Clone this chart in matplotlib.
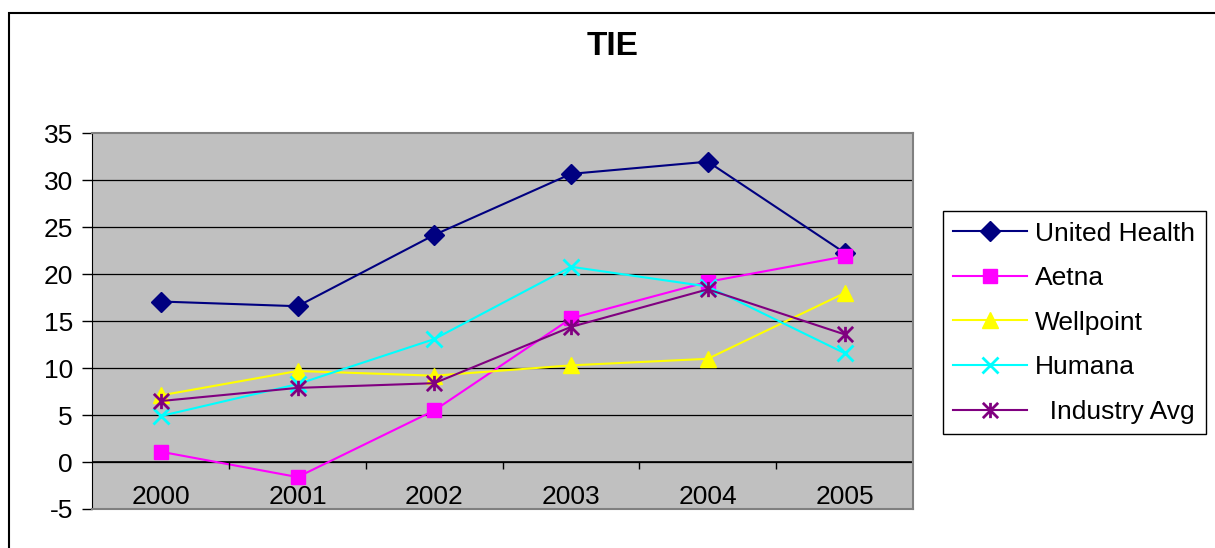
import numpy as np
import matplotlib
matplotlib.use('Agg')
import matplotlib.pyplot as plt
from matplotlib.path import Path
from matplotlib.patches import Rectangle

plt.rcParams['font.family'] = ['Liberation Sans', 'DejaVu Sans']

# data
years = ['2000', '2001', '2002', '2003', '2004', '2005']
united_health = [17.1, 16.6, 24.2, 30.7, 32.0, 22.3]
aetna = [1.1, -1.6, 5.5, 15.3, 19.2, 21.9]
wellpoint = [7.1, 9.7, 9.2, 10.3, 11.0, 18.0]
humana = [4.9, 8.3, 13.1, 20.8, 18.7, 11.6]
industry_avg = [6.5, 7.9, 8.4, 14.4, 18.4, 13.6]
yticks = [-5, 0, 5, 10, 15, 20, 25, 30, 35]

# asterisk marker like Excel's: X with a vertical bar
star = Path([(0, -1), (0, 1), (-1, -1), (1, 1), (-1, 1), (1, -1)],
            [Path.MOVETO, Path.LINETO, Path.MOVETO, Path.LINETO, Path.MOVETO, Path.LINETO])

fig = plt.figure(figsize=(12.15, 5.48), dpi=100)
ax = fig.add_axes([0.0761, 0.0712, 0.6753, 0.6852])
ax.set_facecolor('#c0c0c0')

x = np.arange(len(years))
ax.plot(x, united_health, color='#000080', lw=1.5, marker='D', ms=10, label='United Health')
ax.plot(x, aetna, color='#ff00ff', lw=1.5, marker='s', ms=10, label='Aetna')
ax.plot(x, wellpoint, color='#ffff00', lw=1.5, marker='^', ms=12, label='Wellpoint')
ax.plot(x, humana, color='#00ffff', lw=1.5, marker='x', ms=11, mew=2, label='Humana')
ax.plot(x, industry_avg, color='#800080', lw=1.5, marker=star, ms=11, mew=2, label='  Industry Avg')

ax.set_xlim(-0.5, len(years) - 0.5)
ax.set_ylim(-5, 35)
ax.set_yticks(yticks)
ax.set_yticklabels([str(t) for t in yticks], fontsize=19)
ax.tick_params(axis='y', direction='out', length=7, width=1, pad=7)
for t in yticks[1:-1]:
    ax.axhline(t, color='black', lw=0.9, zorder=0.5)

# category axis crossing at zero, labels inside the plot area
ax.set_xticks([])
ax.axhline(0, color='black', lw=1.2, zorder=1)
ax.vlines(np.arange(0.5, len(years) - 0.5), -0.75, 0, color='black', lw=1)
for i, yr in enumerate(years):
    ax.text(i, -3.75, yr, ha='center', va='center', fontsize=19)

for side in ['top', 'right', 'bottom']:
    ax.spines[side].set_color('#808080')
    ax.spines[side].set_linewidth(1.5)
ax.spines['left'].set_color('black')

fig.text(0.5045, 0.915, 'TIE', ha='center', va='center', fontsize=24, fontweight='bold')

leg = ax.legend(loc='upper left', bbox_to_anchor=(0.776, 0.615), bbox_transform=fig.transFigure,
                fontsize=19, handlelength=2.8, handletextpad=0.3, labelspacing=0.78,
                borderpad=0.4, borderaxespad=0, fancybox=False, framealpha=1)
leg.get_frame().set_edgecolor('black')
leg.get_frame().set_linewidth(1)

fig.patches.append(Rectangle((9 / 1215, -0.1), 1.2, (548 - 13) / 548 + 0.1,
                             transform=fig.transFigure, fill=False, edgecolor='black', lw=1.5))

fig.savefig('out.png', dpi=100)
